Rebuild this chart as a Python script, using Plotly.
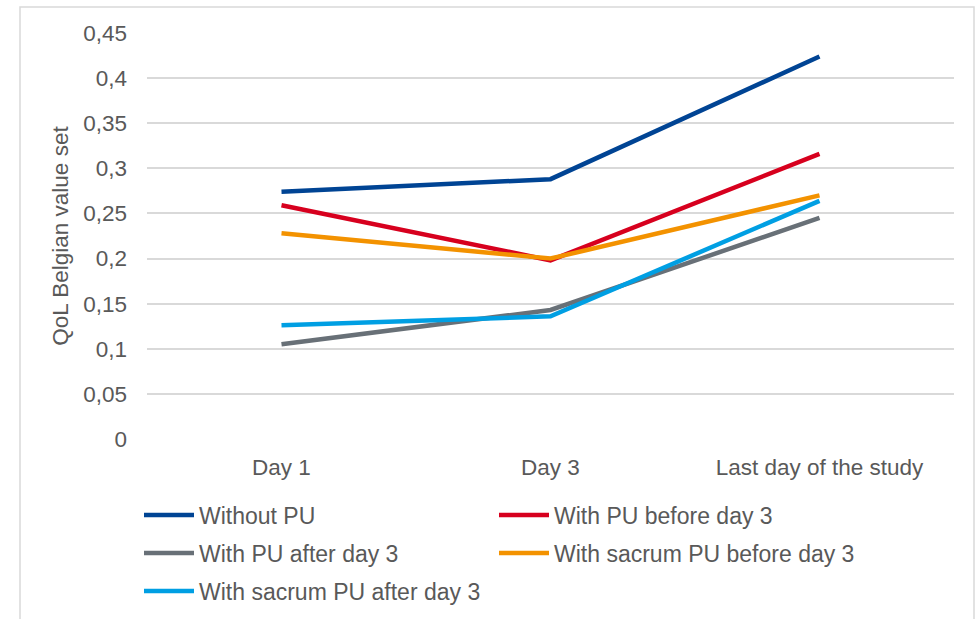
import plotly.graph_objects as go

# Categories along the x axis
days = ["Day 1", "Day 3", "Last day of the study"]

# QoL values (Belgian value set) per group
without_pu = [0.274, 0.288, 0.424]
pu_before_day3 = [0.259, 0.198, 0.316]
pu_after_day3 = [0.105, 0.143, 0.245]
sacrum_pu_before_day3 = [0.228, 0.200, 0.270]
sacrum_pu_after_day3 = [0.126, 0.136, 0.264]

# Y axis ticks
y_tick_vals = [0, 0.05, 0.1, 0.15, 0.2, 0.25, 0.3, 0.35, 0.4, 0.45]
y_tick_text = ["0", "0,05", "0,1", "0,15", "0,2", "0,25", "0,3", "0,35", "0,4", "0,45"]

FONT = "Liberation Sans, Arial, sans-serif"
TEXT = "#595959"

W, H = 979, 619
L, R, T, B = 147, 25, 33, 180
pw, ph = W - L - R, H - T - B


def px_x(p):
    return (p - L) / pw


def px_y(p):
    return (H - B - p) / ph


# name, values, colour, legend id, legend column (px), legend row (px)
series = [
    ("Without PU", without_pu, "#004494", "legend", 139, 515),
    ("With PU before day 3", pu_before_day3, "#D7001E", "legend2", 494, 515),
    ("With PU after day 3", pu_after_day3, "#687077", "legend3", 139, 553),
    ("With sacrum PU before day 3", sacrum_pu_before_day3, "#F39200", "legend4", 494, 553),
    ("With sacrum PU after day 3", sacrum_pu_after_day3, "#009FE3", "legend5", 139, 591),
]

fig = go.Figure()
legends = {}
for name, vals, color, leg, lx, ly in series:
    fig.add_trace(go.Scatter(
        x=days, y=vals, name=name, mode="lines",
        line=dict(color=color, width=4.5),
        legend=leg,
    ))
    legends[leg] = dict(
        xref="container", yref="container",
        x=lx / W, y=1 - ly / H, xanchor="left", yanchor="middle",
        orientation="h", itemwidth=50, bgcolor="rgba(0,0,0,0)",
        font=dict(family=FONT, size=23, color=TEXT),
    )

fig.update_layout(
    width=W, height=H,
    margin=dict(l=L, r=R, t=T, b=B, autoexpand=False),
    paper_bgcolor="white", plot_bgcolor="white",
    font=dict(family=FONT, size=22, color=TEXT),
    showlegend=True,
    **legends,
    xaxis=dict(
        type="category", range=[-0.5, 2.5],
        showgrid=False, zeroline=False, showline=False,
        ticks="", ticklabelstandoff=12,
        tickfont=dict(family=FONT, size=22.5, color=TEXT),
    ),
    yaxis=dict(
        range=[0, 0.45], tickvals=y_tick_vals, ticktext=y_tick_text,
        showgrid=True, gridcolor="#D9D9D9", gridwidth=1.5,
        zeroline=False, showline=False, ticks="", ticklabelstandoff=19,
        tickfont=dict(family=FONT, size=22.5, color=TEXT),
        title=dict(text="QoL Belgian value set", standoff=8,
                   font=dict(family=FONT, size=22.5, color=TEXT)),
    ),
    shapes=[
        # light frame around the chart
        dict(type="rect", xref="paper", yref="paper", layer="below",
             x0=px_x(20), x1=px_x(974), y0=px_y(640), y1=px_y(7),
             line=dict(color="#D9D9D9", width=1.5), fillcolor="rgba(0,0,0,0)"),
    ],
)

fig.write_html("out.html")
